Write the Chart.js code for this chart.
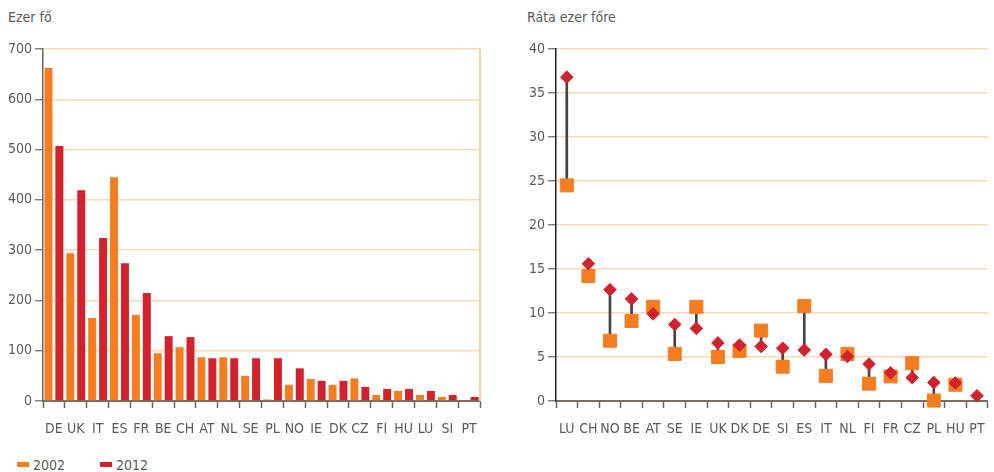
<!DOCTYPE html>
<html lang="hu">
<head>
<meta charset="utf-8">
<script src="https://cdn.jsdelivr.net/npm/chart.js@4/dist/chart.umd.min.js"></script>
<style>
  html, body { margin: 0; padding: 0; background: #fff; overflow: hidden; }
  body { width: 994px; height: 472px; position: relative;
         font-family: "Liberation Sans Narrow", "DejaVu Sans Condensed", sans-serif; color: #5a5a5a; }
  .box { position: absolute; top: 0; height: 440px; }
  .cim { position: absolute; top: 9px; font-size: 14px; color: #5a5a5a; }
  #legenda { position: absolute; top: 457px; left: 17px; font-size: 14px; color: #5a5a5a; }
  #legenda span.item { position: absolute; white-space: nowrap; }
  #legenda i { display: inline-block; width: 12px; height: 5px; vertical-align: middle;
               margin-right: 4px; position: relative; top: -2px; }
</style>
</head>
<body>
<div class="cim" style="left:8px">Ezer fő</div>
<div class="cim" style="left:527px">Ráta ezer főre</div>
<div class="box" style="left:0; width:490px"><canvas id="bal"></canvas></div>
<div class="box" style="left:493px; width:505px"><canvas id="jobb"></canvas></div>
<div id="legenda"></div>

<script>
// ---- adatok ----------------------------------------------------------
// bal grafikon: ezer fő, 2002 és 2012
const ORSZAG_BAL = ["DE", "UK", "IT", "ES", "FR", "BE", "CH", "AT", "NL", "SE",
                    "PL", "NO", "IE", "DK", "CZ", "FI", "HU", "LU", "SI", "PT"];
const EZER_2002 = [662, 294, 165, 445, 171, 95, 107, 87, 87, 50,
                   3, 32, 44, 32, 45, 12, 20, 12, 8, 0];
const EZER_2012 = [507, 419, 324, 274, 215, 129, 127, 85, 85, 85,
                   85, 65, 40, 40, 28, 24, 24, 20, 12, 8];

// jobb grafikon: ráta ezer főre
const ORSZAG_JOBB = ["LU", "CH", "NO", "BE", "AT", "SE", "IE", "UK", "DK", "DE",
                     "SI", "ES", "IT", "NL", "FI", "FR", "CZ", "PL", "HU", "PT"];
const RATA_2002 = [24.5, 14.2, 6.85, 9.1, 10.7, 5.35, 10.7, 5.0, 5.7, 8.0,
                   3.9, 10.8, 2.85, 5.35, 1.97, 2.8, 4.3, 0.05, 1.85, null];
const RATA_2012 = [36.8, 15.6, 12.65, 11.6, 9.9, 8.7, 8.25, 6.6, 6.35, 6.2,
                   6.0, 5.8, 5.3, 5.05, 4.2, 3.2, 2.65, 2.1, 2.05, 0.6];

const EVEK = ["2002", "2012"];

// ---- színek, betű ------------------------------------------------------
const NARANCS = "#f47d20";
const PIROS = "#d1222e";
const RACS = "#fdd9b2";
const SZURKE = "#5a5a5a";
const FONT = { family: "'Liberation Sans Narrow', 'DejaVu Sans Condensed', sans-serif", size: 14 };

Chart.defaults.font = FONT;
Chart.defaults.color = SZURKE;

// jobb oldali narancs keret a bal grafikonon
const jobbKeret = {
  id: "jobbKeret",
  afterDraw(chart) {
    const { ctx, chartArea: a } = chart;
    ctx.save();
    ctx.strokeStyle = "#fccf9f";
    ctx.lineWidth = 2;
    ctx.beginPath();
    ctx.moveTo(a.right, a.top);
    ctx.lineTo(a.right, a.bottom);
    ctx.stroke();
    ctx.restore();
  }
};

function xTengely(szin) {
  return {
    offset: true,
    grid: { display: true, drawOnChartArea: false, offset: true,
            tickLength: 7, tickColor: "#666", tickWidth: 1.5 },
    border: { color: szin, width: 2 },
    ticks: { padding: 13, color: SZURKE, maxRotation: 0, autoSkip: false },
    afterFit(s) { s.height = 39; },
  };
}

function yTengely(max, lepes, szelesseg, tengelySzin) {
  return {
    min: 0, max,
    ticks: { stepSize: lepes, padding: 3, color: SZURKE },
    grid: { color: RACS, lineWidth: 1.5, tickLength: 8, tickColor: "#666", tickWidth: 1.2 },
    border: { color: tengelySzin, width: 1.5 },
    afterFit(s) { s.width = szelesseg; },
  };
}

// ---- bal: oszlopdiagram --------------------------------------------------
new Chart(document.getElementById("bal"), {
  type: "bar",
  data: {
    labels: ORSZAG_BAL,
    datasets: [
      { label: EVEK[0], data: EZER_2002, backgroundColor: NARANCS },
      { label: EVEK[1], data: EZER_2012, backgroundColor: PIROS },
    ],
  },
  options: {
    responsive: true, maintainAspectRatio: false, animation: false,
    layout: { padding: { top: 49, right: 9, left: 0, bottom: 0 } },
    datasets: { bar: { barPercentage: 0.73, categoryPercentage: 1 } },
    plugins: { legend: { display: false }, tooltip: { enabled: false } },
    scales: {
      x: xTengely("#7b6c5e"),
      y: yTengely(700, 100, 43, "#666"),
    },
  },
  plugins: [jobbKeret],
});

// ---- jobb: két pont + összekötő vonal --------------------------------------
const OSSZEKOTO = RATA_2002.map((v, i) =>
  v == null ? null : [Math.min(v, RATA_2012[i]), Math.max(v, RATA_2012[i])]);

new Chart(document.getElementById("jobb"), {
  data: {
    labels: ORSZAG_JOBB,
    datasets: [
      { type: "bar", data: OSSZEKOTO, backgroundColor: "#444",
        barThickness: 2, order: 3 },
      { type: "line", label: EVEK[0], data: RATA_2002, showLine: false,
        pointStyle: "rect", pointRadius: 9.2, backgroundColor: NARANCS,
        borderColor: NARANCS, pointBorderWidth: 1, clip: false, order: 2 },
      { type: "line", label: EVEK[1], data: RATA_2012, showLine: false,
        pointStyle: "rectRot", pointRadius: 6.3, backgroundColor: PIROS,
        borderColor: PIROS, pointBorderWidth: 1, clip: false, order: 1 },
    ],
  },
  options: {
    responsive: true, maintainAspectRatio: false, animation: false,
    layout: { padding: { top: 49, right: 0, left: 0, bottom: 0 } },
    plugins: { legend: { display: false }, tooltip: { enabled: false } },
    scales: {
      x: xTengely("#7b6c5e"),
      y: yTengely(40, 5, 63, "#222"),
    },
  },
});

// ---- jelmagyarázat (bal grafikonhoz) ---------------------------------------
const leg = document.getElementById("legenda");
[[EVEK[0], NARANCS, 0], [EVEK[1], PIROS, 83]].forEach(([t, c, x]) => {
  const s = document.createElement("span");
  s.className = "item";
  s.style.left = x + "px";
  s.innerHTML = `<i style="background:${c}"></i>${t}`;
  leg.appendChild(s);
});
</script>
</body>
</html>
